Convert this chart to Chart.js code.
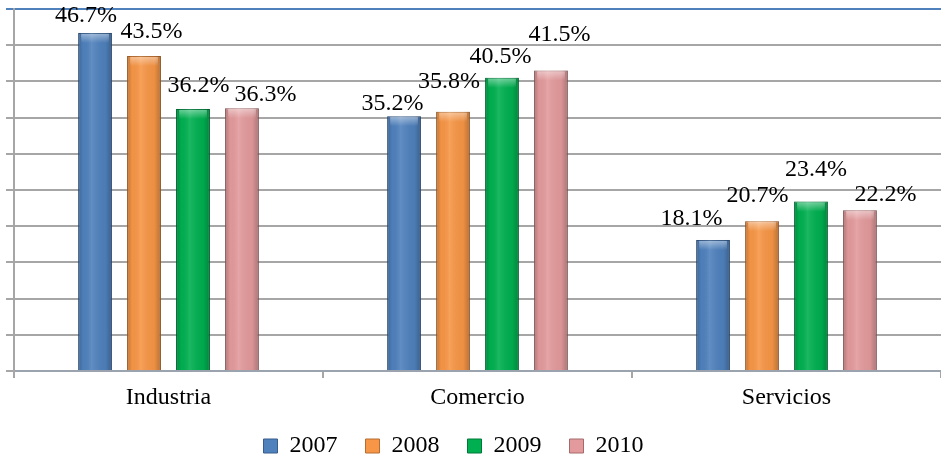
<!DOCTYPE html>
<html lang="es">
<head>
<meta charset="utf-8">
<title>Participación por sector</title>
<script src="https://cdn.jsdelivr.net/npm/chart.js@4.4.1/dist/chart.umd.min.js"></script>
<style>
    html, body { margin: 0; padding: 0; background: #fff; }
    #wrap { width: 941px; height: 462px; position: relative; }
</style>
</head>
<body>
<div id="wrap"><canvas id="sectores"></canvas></div>
<script>
// Sectores y años
const categorias = ['Industria', 'Comercio', 'Servicios'];
const anios = ['2007', '2008', '2009', '2010'];

// Porcentajes por año
const valores2007 = [46.7, 35.2, 18.1];
const valores2008 = [43.5, 35.8, 20.7];
const valores2009 = [36.2, 40.5, 23.4];
const valores2010 = [36.3, 41.5, 22.2];

// Eje Y (sin etiquetas visibles)
const ejeMax = 50;
const ejePaso = 5;

const colores = ['#4F81BD', '#F79646', '#00B050', '#E39A9C'];
const bordes = ['#385D8A', '#B66D31', '#00783A', '#A46A6B'];
const FUENTE = '"Liberation Serif", "DejaVu Serif", serif';

// Ajuste manual de cada etiqueta: [desplazamiento x, separación sobre la barra]
const ajusteEtiquetas = [
    [[-9, 11], [-11.5, 6], [-21.5, 15]],
    [[7.5, 18], [-4, 24], [-4.5, 19]],
    [[5.5, 17], [-1.5, 15], [5, 26]],
    [[23.5, 7], [8.5, 30], [25.5, 9]]
];

// Sombreado tipo cilindro encima de cada barra
const brilloBarras = {
    id: 'brilloBarras',
    afterDatasetsDraw(chart) {
        const ctx = chart.ctx;
        chart.data.datasets.forEach((ds, i) => {
            const meta = chart.getDatasetMeta(i);
            meta.data.forEach(bar => {
                const w = bar.width;
                const left = bar.x - w / 2;
                const top = bar.y;
                const h = bar.base - bar.y;
                const g = ctx.createLinearGradient(left, 0, left + w, 0);
                g.addColorStop(0, 'rgba(0,0,0,0.22)');
                g.addColorStop(0.15, 'rgba(0,0,0,0.02)');
                g.addColorStop(0.4, 'rgba(255,255,255,0.10)');
                g.addColorStop(0.8, 'rgba(0,0,0,0.04)');
                g.addColorStop(1, 'rgba(0,0,0,0.25)');
                ctx.save();
                ctx.fillStyle = g;
                ctx.fillRect(left, top, w, h);
                // reflejo en la parte superior
                const t = ctx.createLinearGradient(0, top, 0, top + 10);
                t.addColorStop(0, 'rgba(255,255,255,0.45)');
                t.addColorStop(1, 'rgba(255,255,255,0)');
                ctx.fillStyle = t;
                ctx.fillRect(left + 3, top + 1, w - 6, 10);
                ctx.restore();
            });
        });
    }
};

// Etiquetas de porcentaje sobre las barras
const etiquetas = {
    id: 'etiquetas',
    afterDatasetsDraw(chart) {
        const ctx = chart.ctx;
        ctx.save();
        ctx.font = '24px ' + FUENTE;
        ctx.fillStyle = '#000';
        ctx.textAlign = 'center';
        ctx.textBaseline = 'alphabetic';
        chart.data.datasets.forEach((ds, i) => {
            const meta = chart.getDatasetMeta(i);
            meta.data.forEach((bar, j) => {
                const [dx, sep] = ajusteEtiquetas[i][j];
                ctx.fillText(ds.data[j].toFixed(1) + '%', bar.x + dx, bar.y - sep);
            });
        });
        ctx.restore();
    }
};

// La leyenda va un poco a la izquierda del centro
const leyendaIzquierda = {
    id: 'leyendaIzquierda',
    afterLayout(chart) {
        if (chart.legend) {
            chart.legend.left -= 20;
            chart.legend.right -= 20;
        }
    }
};

const series = [valores2007, valores2008, valores2009, valores2010];

new Chart(document.getElementById('sectores'), {
    type: 'bar',
    data: {
        labels: categorias,
        datasets: series.map((datos, i) => ({
            label: anios[i],
            data: datos,
            backgroundColor: colores[i],
            borderColor: bordes[i],
            borderWidth: 1,
            categoryPercentage: 0.634,
            barPercentage: 0.69
        }))
    },
    options: {
        responsive: true,
        maintainAspectRatio: false,
        animation: false,
        layout: { padding: { left: 6, top: 9, right: 0, bottom: -6 } },
        plugins: {
            legend: {
                position: 'bottom',
                labels: {
                    font: { family: FUENTE, size: 24 },
                    color: '#000',
                    boxWidth: 14,
                    boxHeight: 14,
                    padding: 28
                }
            },
            tooltip: { enabled: false }
        },
        scales: {
            x: {
                afterFit(scale) { scale.height = 35; },
                grid: {
                    offset: true,
                    drawOnChartArea: false,
                    color: '#A6A6A6',
                    tickLength: 7,
                    lineWidth: 2
                },
                border: { color: '#9AA3AE', width: 2 },
                ticks: {
                    font: { family: FUENTE, size: 24 },
                    color: '#000',
                    padding: 5
                }
            },
            y: {
                min: 0,
                max: ejeMax,
                ticks: { display: false, stepSize: ejePaso },
                grid: {
                    color: ctx => ctx.tick && ctx.tick.value === ejeMax ? '#4F81BD' : '#A6A6A6',
                    lineWidth: 2,
                    tickLength: 8
                },
                border: { color: '#A6A6A6', width: 2 }
            }
        }
    },
    plugins: [brilloBarras, etiquetas, leyendaIzquierda]
});
</script>
</body>
</html>
